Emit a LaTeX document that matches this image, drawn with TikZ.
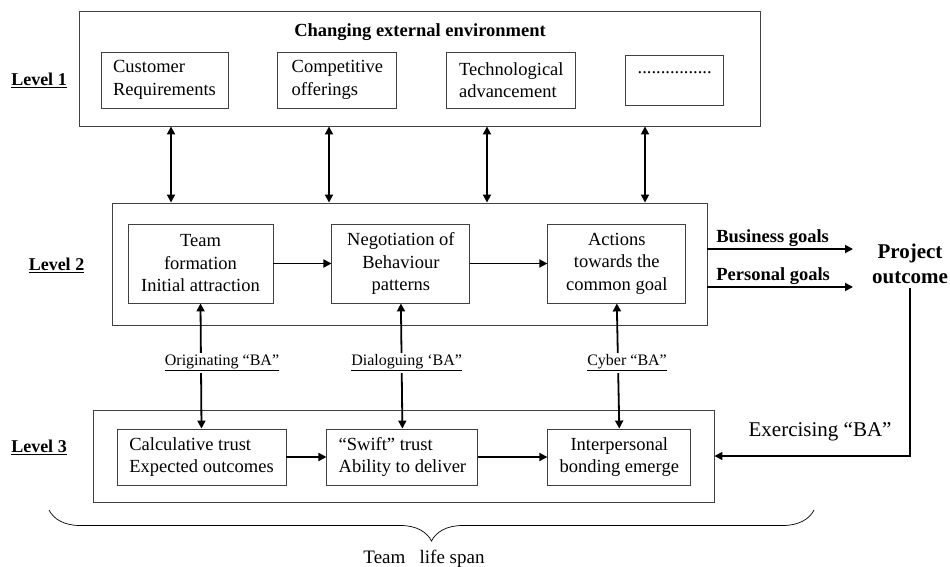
\documentclass[tikz,border=0pt]{standalone}
\usepackage{fontspec}
\setmainfont{Liberation Serif}
\usetikzlibrary{positioning,arrows.meta,decorations.pathreplacing}
\definecolor{boxLine}{HTML}{404040}

\begin{document}
\begin{tikzpicture}[x=1pt, y=-1pt, >={Triangle[length=8pt,width=8pt]}, node distance=49pt,
          outer/.style={draw=boxLine, line width=0.9pt, inner sep=0pt},
          inner/.style={draw=boxLine, line width=0.9pt, font=\fontsize{18.5}{22.5}\selectfont, align=center, inner sep=2pt},
          lvl/.style={font=\fontsize{18}{22}\selectfont\bfseries},
          ba/.style={font=\fontsize{16}{19}\selectfont, fill=white, inner sep=2pt},
          goal/.style={font=\fontsize{18.5}{22}\selectfont\bfseries, inner sep=2pt},
          link/.style={line width=1.8pt}]
        \useasboundingbox (0,0) rectangle (950,567);
        % level 1
        \node[outer, minimum width=681pt, minimum height=115pt] (L1) at (419.5,68.5) {};
        \node[goal] (env) at (420,32) {Changing external environment};
        \node[inner, align=left, minimum width=127pt, minimum height=56pt] (cust) at (164.5,80) {Customer\\Requirements};
        \node[inner, align=left, minimum width=119pt, minimum height=56pt, right=of cust] (comp) {Competitive\\offerings};
        \node[inner, align=left, minimum width=129pt, minimum height=56pt, right=of comp] (tech) {Technological\\advancement};
        \node[inner, minimum width=98pt, minimum height=50pt, right=of tech] (more) {\raisebox{11pt}{................}\strut};
        \node[lvl] (lv1) at (39,80) {\underline{Level 1}};
        % level 2
        \node[outer, minimum width=595pt, minimum height=122pt] (L2) at (409.5,264) {};
        \node[inner, minimum width=145pt, minimum height=79pt] (team) at (200.5,263.5) {Team\\formation\\Initial attraction};
        \node[inner, minimum width=138pt, minimum height=79pt, right=58pt of team] (nego) {Negotiation of\\Behaviour\\patterns};
        \node[inner, minimum width=138pt, minimum height=79pt, right=77pt of nego] (act) {Actions\\towards the\\common goal};
        \node[lvl] (lv2) at (56.5,265) {\underline{Level 2}};
        % level 3
        \node[outer, minimum width=621pt, minimum height=92pt] (L3) at (403.5,456) {};
        \node[inner, align=left, minimum width=169pt, minimum height=56pt] (calc) at (201.5,457) {Calculative trust\\Expected outcomes};
        \node[inner, align=left, minimum width=151pt, minimum height=56pt, right=40pt of calc] (swift) {“Swift” trust\\Ability to deliver};
        \node[inner, minimum width=143pt, minimum height=56pt, right=69pt of swift] (bond) {Interpersonal\\bonding emerge};
        \node[lvl] (lv3) at (39,447) {\underline{Level 3}};
        % outcome
        \node[font=\fontsize{21}{25}\selectfont\bfseries, align=center, inner sep=4pt] (po) at (910,264) {Project\\outcome};
        \coordinate (bgEnd) at (853,249);
        \coordinate (pgEnd) at (853,287);
        \foreach \x in {171,329,487,645} {
          \draw[<->, link] (\x,0 |- L1.south) -- (\x,0 |- L2.north);
        }
        \draw[->, link] (team) -- (nego);
        \draw[->, link] (nego) -- (act);
        \draw[->, link] (calc) -- (swift);
        \draw[->, link] (swift) -- (bond);
        \draw[<->, link] (team.south) -- (calc.north) node[ba, midway, xshift=21pt, yshift=3pt] {\underline{Originating “BA”}};
        \draw[<->, link] (nego.south) -- (swift.north) node[ba, midway, xshift=5pt, yshift=3pt] {\underline{Dialoguing ‘BA”}};
        \draw[<->, link] (act.south) -- (bond.north) node[ba, midway, xshift=9pt, yshift=3pt] {\underline{Cyber “BA”}};
        \draw[->, link] (L2.east |- bgEnd) -- (bgEnd) node[goal, pos=0, above right, xshift=6pt] {Business goals};
        \draw[->, link] (L2.east |- pgEnd) -- (pgEnd) node[goal, pos=0, above right, xshift=6pt] {Personal goals};
        \draw[->, link] (po.south) |- (L3.east) node[pos=0.73, above=11pt, font=\fontsize{21}{25}\selectfont] {Exercising “BA”};
        \draw[decorate, decoration={brace, mirror, amplitude=31pt}, line width=0.7pt] (49,510) -- (814,510);
        \node[font=\fontsize{19}{22}\selectfont] (span) at (424,559) {Team\ \ \ life span};
\end{tikzpicture}
\end{document}
